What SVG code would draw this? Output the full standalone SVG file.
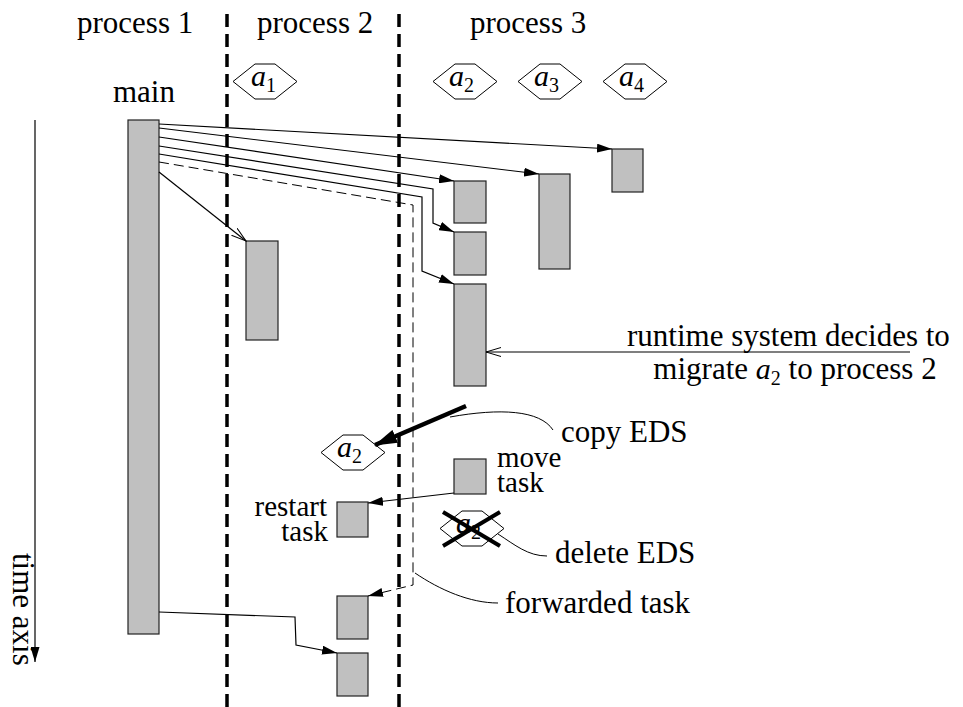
<svg xmlns="http://www.w3.org/2000/svg" width="963" height="707" viewBox="0 0 963 707">
  <style>
    text { font-family: "Liberation Serif", "Times New Roman", serif; font-size: 31px; fill: #000; }
    .stack { font-size: 29px; }
    .mi { font-style: italic; font-size: 30px; }
    .sub { font-size: 20px; }
    .task { fill: #c0c0c0; stroke: #222; stroke-width: 1.2; }
    .hex { fill: #fff; stroke: #000; stroke-width: 1; }
    .bound { stroke: #000; stroke-width: 3.5; stroke-dasharray: 13 7; fill: none; }
    .msg { stroke: #000; stroke-width: 1.2; fill: none; }
    .thick { stroke: #000; stroke-width: 4.5; fill: none; }
    .fwd { stroke: #000; stroke-width: 1; stroke-dasharray: 10 5; fill: none; }
    .lead { stroke: #000; stroke-width: 1; fill: none; }
    .cross { stroke: #000; stroke-width: 4; }
  </style>
  <defs>
    <marker id="solid" markerUnits="userSpaceOnUse" markerWidth="16" markerHeight="9" refX="15" refY="4.5" orient="auto">
      <path d="M0,0 L15,4.5 L0,9 z" fill="#000"/>
    </marker>
    <marker id="open" markerUnits="userSpaceOnUse" markerWidth="16" markerHeight="10" refX="15" refY="5" orient="auto">
      <path d="M0,0.5 L15,5 L0,9.5" fill="none" stroke="#000" stroke-width="1"/>
    </marker>
    <marker id="big" markerUnits="userSpaceOnUse" markerWidth="24" markerHeight="14" refX="22" refY="7" orient="auto">
      <path d="M0,0 L23,7 L0,14 z" fill="#000"/>
    </marker>
    <polygon id="hexshape" class="hex" points="0,17.5 22,0 42,0 64,17.5 42,35 22,35"/>
  </defs>

  <!-- process labels -->
  <g id="labels">
    <text x="77" y="33">process 1</text>
    <text x="257" y="33">process 2</text>
    <text x="470" y="33">process 3</text>
  </g>

  <!-- process boundaries -->
  <g id="boundaries">
    <line class="bound" x1="227" y1="14" x2="227" y2="707"/>
    <line class="bound" x1="399" y1="14" x2="399" y2="707"/>
  </g>

  <!-- time axis -->
  <g id="time-axis">
    <line class="msg" x1="35" y1="120" x2="35" y2="662" marker-end="url(#solid)"/>
    <text transform="translate(13,553) rotate(90)">time axis</text>
  </g>

  <!-- objects (EDS) -->
  <g id="obj-a1">
    <use href="#hexshape" x="233" y="64"/>
    <text x="251" y="86"><tspan class="mi">a</tspan><tspan class="sub" dy="6">1</tspan></text>
  </g>
  <g id="obj-a2">
    <use href="#hexshape" x="433" y="64"/>
    <text x="449" y="86"><tspan class="mi">a</tspan><tspan class="sub" dy="6">2</tspan></text>
  </g>
  <g id="obj-a3">
    <use href="#hexshape" x="518" y="64"/>
    <text x="534" y="86"><tspan class="mi">a</tspan><tspan class="sub" dy="6">3</tspan></text>
  </g>
  <g id="obj-a4">
    <use href="#hexshape" x="603" y="64"/>
    <text x="619" y="86"><tspan class="mi">a</tspan><tspan class="sub" dy="6">4</tspan></text>
  </g>
  <g id="obj-a2-copy">
    <use href="#hexshape" x="321" y="435"/>
    <text x="337" y="457"><tspan class="mi">a</tspan><tspan class="sub" dy="6">2</tspan></text>
  </g>
  <g id="obj-a2-deleted">
    <use href="#hexshape" x="440" y="511"/>
    <text x="456" y="533"><tspan class="mi">a</tspan><tspan class="sub" dy="6">2</tspan></text>
    <line class="cross" x1="443" y1="512" x2="500" y2="546"/>
    <line class="cross" x1="500" y1="512" x2="443" y2="546"/>
  </g>

  <!-- tasks -->
  <g id="main">
    <text x="113" y="102">main</text>
    <rect class="task" x="128" y="120" width="31" height="514"/>
  </g>
  <g id="task-a1"><rect class="task" x="246" y="241" width="32" height="99"/></g>
  <g id="task-a4"><rect class="task" x="612" y="149" width="31" height="43"/></g>
  <g id="task-a3"><rect class="task" x="539" y="174" width="31" height="95"/></g>
  <g id="task-a2-1"><rect class="task" x="454" y="181" width="32" height="42"/></g>
  <g id="task-a2-2"><rect class="task" x="454" y="232" width="32" height="43"/></g>
  <g id="task-a2-3"><rect class="task" x="454" y="284" width="32" height="102"/></g>
  <g id="task-move">
    <rect class="task" x="454" y="459" width="32" height="35"/>
    <text class="stack" x="497" y="467">move</text>
    <text class="stack" x="497" y="492">task</text>
  </g>
  <g id="task-restart">
    <rect class="task" x="337" y="502" width="31" height="35"/>
    <text class="stack" x="327" y="516" text-anchor="end">restart</text>
    <text class="stack" x="328" y="541" text-anchor="end">task</text>
  </g>
  <g id="task-forwarded"><rect class="task" x="337" y="596" width="31" height="43"/></g>
  <g id="task-last"><rect class="task" x="337" y="653" width="31" height="43"/></g>

  <!-- annotations -->
  <g id="notes">
    <text x="627" y="346">runtime system decides to</text>
    <text x="795" y="379" text-anchor="middle">migrate <tspan class="mi">a</tspan><tspan class="sub" dy="6">2</tspan><tspan dy="-6"> to process 2</tspan></text>
    <text x="561" y="442">copy EDS</text>
    <text x="555" y="563">delete EDS</text>
    <text x="505" y="613">forwarded task</text>
  </g>

  <!-- connectors -->
  <g id="connectors">
    <path class="msg" d="M159,124 L612,149" marker-end="url(#solid)"/>
    <path class="msg" d="M159,128 L539,174" marker-end="url(#solid)"/>
    <path class="msg" d="M159,137 L454,181" marker-end="url(#solid)"/>
    <path class="msg" d="M159,146 L433,189 L433,223 L454,232" marker-end="url(#solid)"/>
    <path class="msg" d="M159,154 L422,197 L422,271 L454,284" marker-end="url(#solid)"/>
    <path class="fwd" d="M159,162 L413,205 L413,585 L368,596" marker-end="url(#solid)"/>
    <path class="msg" d="M159,172 L246,241" marker-end="url(#open)"/>
    <path class="msg" d="M159,612 L295,617 L296,645 L337,653" marker-end="url(#solid)"/>
    <path class="msg" d="M910,352 L486,352" marker-end="url(#open)"/>
    <path class="thick" d="M466,406 L375,445" marker-end="url(#big)"/>
    <path class="msg" d="M454,493 L368,503" marker-end="url(#solid)"/>
    <path class="lead" d="M450,417 C500,408 540,410 553,430"/>
    <path class="lead" d="M498,534 C515,545 528,556 547,556"/>
    <path class="lead" d="M415,573 C440,590 470,603 498,603"/>
  </g>
</svg>
